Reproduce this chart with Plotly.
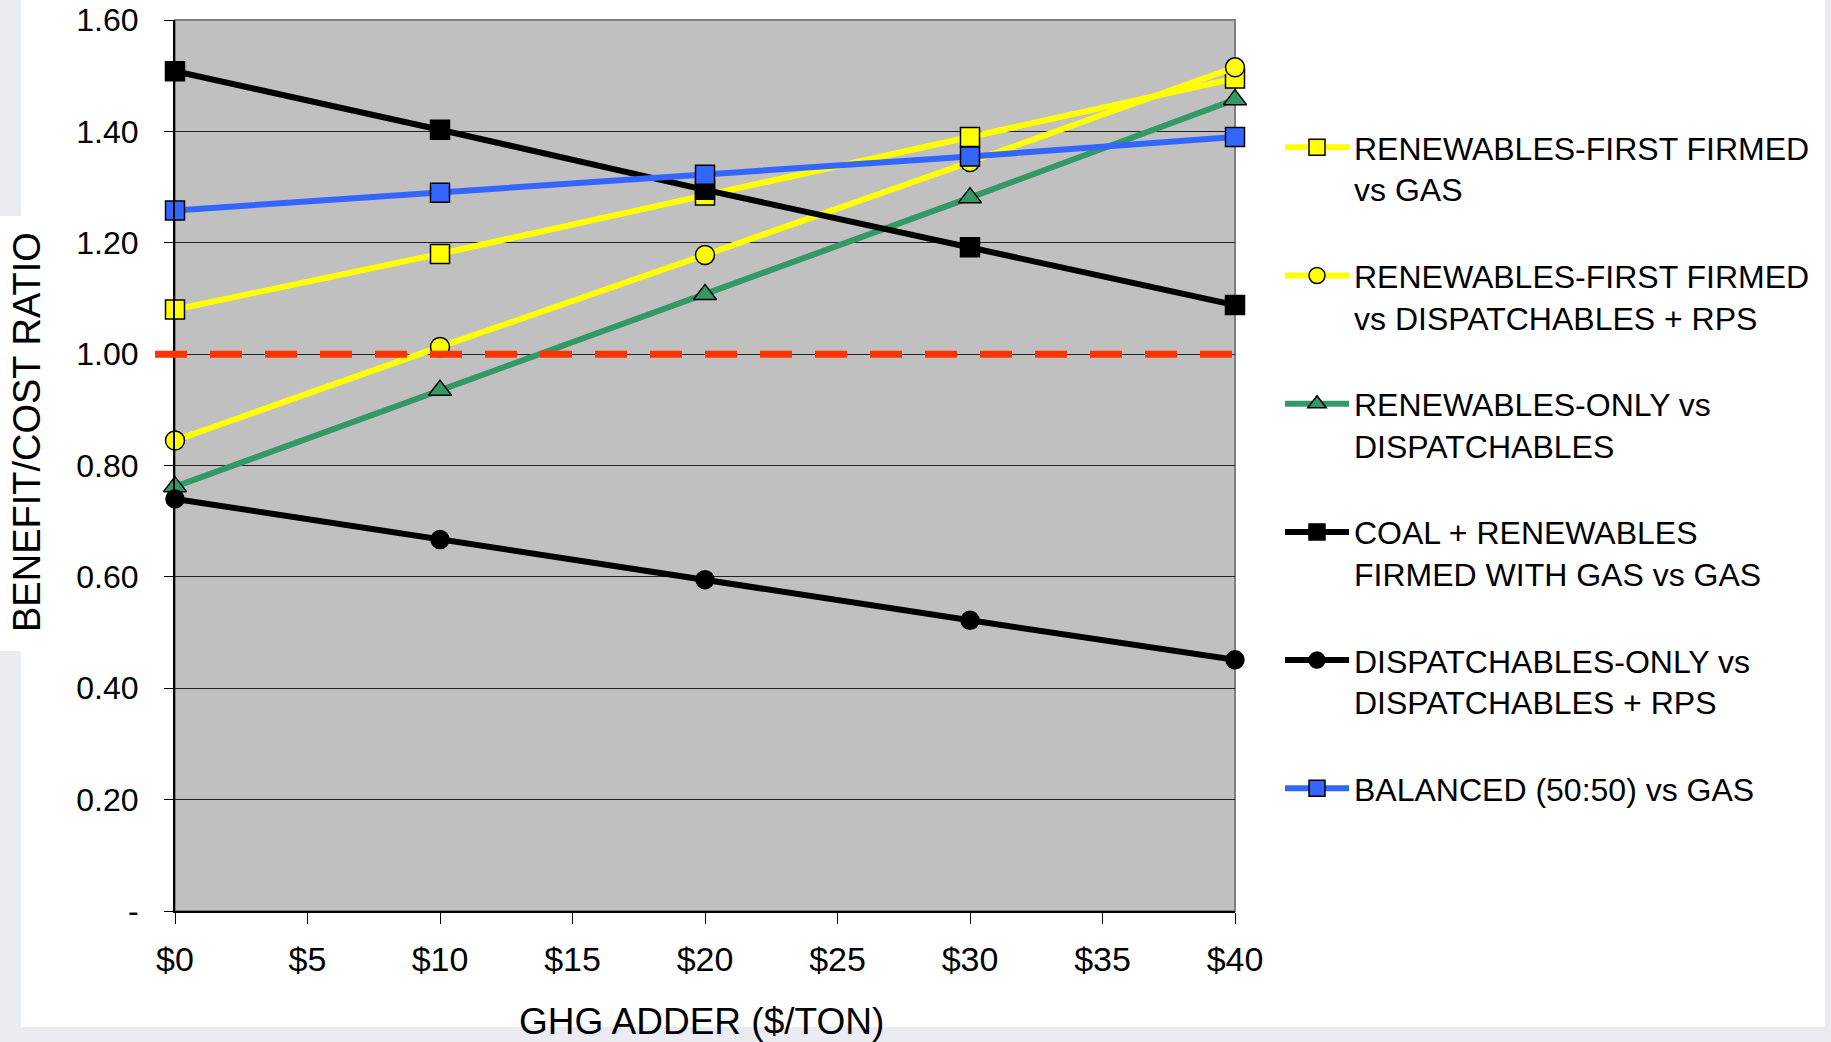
import plotly.graph_objects as go

# GHG adder ($/ton)
ghg = [0, 10, 20, 30, 40]

ren_first_vs_gas = [1.08, 1.18, 1.285, 1.39, 1.495]
ren_first_vs_disp_rps = [0.845, 1.013, 1.178, 1.345, 1.515]
ren_only_vs_disp = [0.762, 0.935, 1.107, 1.281, 1.457]
coal_ren_vs_gas = [1.508, 1.403, 1.295, 1.192, 1.088]
disp_only_vs_disp_rps = [0.74, 0.667, 0.595, 0.522, 0.451]
balanced_vs_gas = [1.258, 1.29, 1.322, 1.355, 1.39]

names = [
    "RENEWABLES-FIRST FIRMED<br>vs GAS",
    "RENEWABLES-FIRST FIRMED<br>vs DISPATCHABLES + RPS",
    "RENEWABLES-ONLY vs<br>DISPATCHABLES",
    "COAL + RENEWABLES<br>FIRMED WITH GAS vs GAS",
    "DISPATCHABLES-ONLY vs<br>DISPATCHABLES + RPS",
    "BALANCED (50:50) vs GAS",
]

x_ticks = [0, 5, 10, 15, 20, 25, 30, 35, 40]
x_labels = ["$0", "$5", "$10", "$15", "$20", "$25", "$30", "$35", "$40"]
y_ticks = [0, 0.2, 0.4, 0.6, 0.8, 1.0, 1.2, 1.4, 1.6]
y_labels = ["-", "0.20", "0.40", "0.60", "0.80", "1.00", "1.20", "1.40", "1.60"]
breakeven = 1.0

series = [
    (ren_first_vs_gas, "#FFFF00", "square", 19),
    (ren_first_vs_disp_rps, "#FFFF00", "circle", 19),
    (ren_only_vs_disp, "#339966", "triangle-up", 20),
    (coal_ren_vs_gas, "#000000", "square", 19),
    (disp_only_vs_disp_rps, "#000000", "circle", 18),
    (balanced_vs_gas, "#3366FF", "square", 19),
]

FONT = "Liberation Sans, Arial, sans-serif"

# pixel layout helpers (plot area 175..1235 x 20..911)
L, R, T, B = 175, 1235, 20, 911
def px(x):
    return (x - L) / (R - L)
def py(y):
    return (B - y) / (B - T)

fig = go.Figure()
for i, (vals, col, sym, sz) in enumerate(series):
    fig.add_trace(go.Scatter(
        x=ghg, y=vals, name=names[i], mode="lines+markers",
        legendgroup="g%d" % i,
        line=dict(color=col, width=6),
        marker=dict(symbol=sym, size=sz, color=col, line=dict(color="black", width=1.5)),
        cliponaxis=False,
    ))

bg = "#EBEBF2"
shapes = [
    # slide background strips around the white chart area
    dict(type="rect", xref="paper", yref="paper", x0=px(0), x1=px(21), y0=py(0), y1=py(216),
         fillcolor=bg, line=dict(width=0), layer="below"),
    dict(type="rect", xref="paper", yref="paper", x0=px(0), x1=px(21), y0=py(651), y1=py(1042),
         fillcolor=bg, line=dict(width=0), layer="below"),
    dict(type="rect", xref="paper", yref="paper", x0=px(0), x1=px(1831), y0=py(1027), y1=py(1042),
         fillcolor=bg, line=dict(width=0), layer="below"),
    dict(type="rect", xref="paper", yref="paper", x0=px(1825), x1=px(1831), y0=py(0), y1=py(1042),
         fillcolor=bg, line=dict(width=0), layer="below"),
    # grey frame on top/right
    dict(type="rect", xref="x domain", yref="y domain", x0=0, x1=1, y0=0, y1=1,
         line=dict(color="#808080", width=2), layer="below"),
    # break-even line
    dict(type="line", xref="paper", yref="y", x0=px(155), x1=px(1250), y0=breakeven, y1=breakeven,
         line=dict(color="#FF3300", width=7, dash="32px,23px"), layer="above"),
]

fig.update_layout(
    width=1831, height=1042,
    margin=dict(l=L, r=1831 - R, t=T, b=1042 - B, autoexpand=False),
    paper_bgcolor="white",
    plot_bgcolor="#C0C0C0",
    font=dict(family=FONT, color="black", size=30),
    shapes=shapes,
    showlegend=True,
    legend=dict(
        x=px(1280), y=py(120), xanchor="left", yanchor="top",
        bgcolor="rgba(0,0,0,0)", font=dict(family=FONT, size=32, color="black"),
        itemwidth=64, valign="top", tracegroupgap=42,
    ),
    annotations=[
        dict(text="BENEFIT/COST RATIO", textangle=-90, xref="paper", yref="paper",
             x=px(27), y=py(432), xanchor="center", yanchor="middle", showarrow=False,
             font=dict(family=FONT, size=38, color="black")),
        dict(text="GHG ADDER ($/TON)", xref="paper", yref="paper",
             x=px(701), y=py(1021), xanchor="center", yanchor="middle", showarrow=False,
             font=dict(family=FONT, size=37, color="black")),
    ],
)

fig.update_xaxes(
    range=[0, 40], tickvals=x_ticks, ticktext=x_labels, showgrid=False, zeroline=False,
    showline=True, linecolor="black", linewidth=2, ticks="outside", ticklen=11,
    tickcolor="black", tickwidth=1, tickfont=dict(size=34), ticklabelstandoff=6,
    automargin=False,
)
fig.update_yaxes(
    range=[0, 1.6], tickvals=y_ticks, ticktext=y_labels, showgrid=True, gridcolor="#222222",
    gridwidth=1, zeroline=False, showline=True, linecolor="black", linewidth=2,
    ticks="outside", ticklen=9, tickcolor="black", tickwidth=1, tickfont=dict(size=32),
    ticklabelstandoff=19, automargin=False,
)

fig.write_html("out.html", config={"displayModeBar": False},
               post_script="document.body.style.margin='0';")
